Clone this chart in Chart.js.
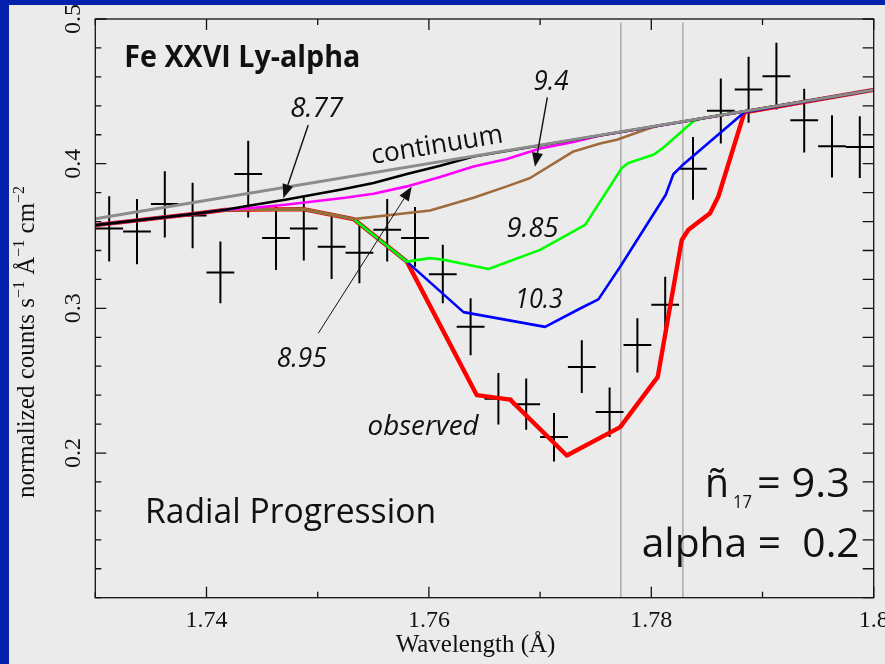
<!DOCTYPE html>
<html lang="en">
<head>
<meta charset="UTF-8">
<title>Fe XXVI Ly-alpha - radial progression</title>
<script src="https://cdn.jsdelivr.net/npm/chart.js"></script>
<style>
  html, body { margin: 0; padding: 0; background: #0421ae; }
  body { width: 885px; height: 664px; overflow: hidden; position: relative; }
  #wrap { position: absolute; left: 9px; top: 5px; width: 876px; height: 659px; background: #ebebeb; }
  canvas { display: block; }
</style>
</head>
<body>
<div id="wrap"><canvas id="spec" width="876" height="659"></canvas></div>
<script>
// binned spectrum (bin centres, flux, error bar ends)
const binWave = [1.73125, 1.73375, 1.73625, 1.73875, 1.74125, 1.74375, 1.74625, 1.74875, 1.75125, 1.75375,
                 1.75625, 1.75875, 1.76125, 1.76375, 1.76625, 1.76875, 1.77125, 1.77375, 1.77625, 1.77875,
                 1.78125, 1.78375, 1.78625, 1.78875, 1.79125, 1.79375, 1.79625, 1.79875];
const binFlux = [0.3552, 0.3531, 0.3721, 0.3642, 0.3247, 0.3929, 0.3487, 0.3552, 0.3425, 0.3385,
                 0.3543, 0.3487, 0.3236, 0.2872, 0.2376, 0.2337, 0.2110, 0.2595, 0.2283, 0.2746,
                 0.3025, 0.3965, 0.4365, 0.4513, 0.4605, 0.4300, 0.4120, 0.4115];
const binLow  = [0.3323, 0.3305, 0.3489, 0.3416, 0.3035, 0.3628, 0.3265, 0.3330, 0.3203, 0.3173,
                 0.3323, 0.3288, 0.3035, 0.2676, 0.2198, 0.2161, 0.1942, 0.2415, 0.2110, 0.2557,
                 0.2834, 0.3750, 0.4139, 0.4283, 0.4374, 0.4078, 0.3905, 0.3901];
const binHigh = [0.3774, 0.3755, 0.3947, 0.3868, 0.3462, 0.4159, 0.3704, 0.3773, 0.3631, 0.3577,
                 0.3755, 0.3700, 0.3439, 0.3069, 0.2554, 0.2515, 0.2277, 0.2780, 0.2453, 0.2931,
                 0.3219, 0.4185, 0.4589, 0.4739, 0.4836, 0.4518, 0.4335, 0.4328];
const binHalfWidth = 0.00125;

// continuum
const contWave = [1.73, 1.80];
const contFlux = [0.362, 0.451];

// model profiles, labelled by log column density
const wave877 = [1.73, 1.73869, 1.74169, 1.74378, 1.74708, 1.75202, 1.75502, 1.75802, 1.76101, 1.76401, 1.80];
const flux877 = [0.3575, 0.3651, 0.3681, 0.3709, 0.3751, 0.3820, 0.3866, 0.3929, 0.3985, 0.4050, 0.451];

const wave895 = [1.73, 1.73869, 1.74169, 1.74378, 1.74708, 1.75247, 1.75502, 1.75802, 1.76101, 1.76401,
                 1.76701, 1.77, 1.773, 1.7754, 1.80];
const flux895 = [0.3575, 0.3651, 0.3681, 0.3692, 0.3716, 0.3764, 0.3792, 0.3843, 0.3908, 0.3981,
                 0.4033, 0.4105, 0.4150, 0.4195, 0.451];

const wave940 = [1.73, 1.73869, 1.74169, 1.7487, 1.75322, 1.76011, 1.76401, 1.76701, 1.7691, 1.773,
                 1.7754, 1.7769, 1.77989, 1.7808, 1.80];
const flux940 = [0.3575, 0.3651, 0.3681, 0.3686, 0.3617, 0.3676, 0.3765, 0.3843, 0.3901, 0.4085,
                 0.4139, 0.4166, 0.4247, 0.4265, 0.451];

const wave985 = [1.73, 1.73869, 1.74169, 1.7487, 1.75322, 1.75802, 1.76011, 1.76131, 1.76536, 1.77,
                 1.77405, 1.77735, 1.77794, 1.78019, 1.78094, 1.78378, 1.78468, 1.80];
const flux985 = [0.3575, 0.3651, 0.3681, 0.3686, 0.3617, 0.3323, 0.3347, 0.3336, 0.3272, 0.3404,
                 0.3577, 0.3970, 0.4005, 0.4062, 0.4102, 0.4293, 0.4315, 0.451];

const wave1030 = [1.73, 1.73869, 1.74169, 1.7487, 1.75322, 1.75802, 1.76311, 1.77045, 1.7736, 1.77524,
                  1.7772, 1.7813, 1.78198, 1.78274, 1.78837, 1.80];
const flux1030 = [0.3575, 0.3651, 0.3681, 0.3686, 0.3617, 0.3323, 0.2974, 0.2872, 0.2999, 0.3062,
                  0.3288, 0.3785, 0.3927, 0.3985, 0.4355, 0.451];

const waveObs = [1.73, 1.73869, 1.74169, 1.7487, 1.75322, 1.75802, 1.76431, 1.76731, 1.7724, 1.7772,
                 1.78058, 1.78274, 1.78334, 1.78528, 1.78603, 1.78837, 1.80];
const fluxObs = [0.3575, 0.3651, 0.3681, 0.3686, 0.3617, 0.3323, 0.2400, 0.2369, 0.1983, 0.2179,
                 0.2526, 0.3473, 0.3543, 0.3658, 0.3773, 0.4355, 0.451];

// rest wavelengths of the two line components
const markWave = [1.77726, 1.78284];
const markTop = 0.4975;

const SANS = '"Open Sans", "Noto Sans", sans-serif';
const SERIF = '"Liberation Serif", "DejaVu Serif", serif';

const pts = (wx, fy) => wx.map((w, i) => ({ x: w, y: fy[i] }));

function profile(label, wx, fy, color, width) {
  return {
    label, data: pts(wx, fy), borderColor: color, borderWidth: width,
    pointRadius: 0, fill: false, tension: 0, borderJoinStyle: 'round'
  };
}

// each bin becomes a cross: horizontal bar, gap, vertical bar, gap
const crossData = [];
binWave.forEach((w, i) => {
  crossData.push({ x: w - binHalfWidth, y: binFlux[i] }, { x: w + binHalfWidth, y: binFlux[i] }, { x: w, y: null });
  crossData.push({ x: w, y: binLow[i] }, { x: w, y: binHigh[i] }, { x: w, y: null });
});

const markData = [];
markWave.forEach(w => {
  markData.push({ x: w, y: 0.1 }, { x: w, y: markTop }, { x: w, y: null });
});

// first dataset is painted last (on top)
const datasets = [
  profile('continuum', contWave, contFlux, '#8c8c8c', 3),
  profile('8.77', wave877, flux877, '#000000', 2.6),
  profile('8.95', wave895, flux895, '#ff00ff', 2.6),
  profile('9.4', wave940, flux940, '#a06b3c', 2.6),
  profile('9.85', wave985, flux985, '#00ff00', 2.6),
  profile('10.3', wave1030, flux1030, '#0000ff', 2.6),
  profile('observed', waveObs, fluxObs, '#ff0000', 4.4),
  { label: 'data', data: crossData, borderColor: '#000', borderWidth: 2, pointRadius: 0, spanGaps: false, tension: 0 },
  { label: 'lines', data: markData, borderColor: '#a6a6a6', borderWidth: 1.4, pointRadius: 0, spanGaps: false, tension: 0 }
];

// labels placed in data units
const notes = [
  { text: 'Fe XXVI Ly-alpha', x: 1.73261, y: 0.46703, font: 'bold 30px ' + SANS, align: 'left', width: 236 },
  { text: '8.77', x: 1.74991, y: 0.43247, font: 'italic 27px ' + SANS, align: 'center', width: 53 },
  { text: '9.4', x: 1.77098, y: 0.45092, font: 'italic 27px ' + SANS, align: 'center', width: 35 },
  { text: '9.85', x: 1.76932, y: 0.34953, font: 'italic 27px ' + SANS, align: 'center', width: 52 },
  { text: '10.3', x: 1.76990, y: 0.30004, font: 'italic 27px ' + SANS, align: 'center', width: 48 },
  { text: '8.95', x: 1.74856, y: 0.25967, font: 'italic 27px ' + SANS, align: 'center', width: 50 },
  { text: 'observed', x: 1.75947, y: 0.21246, font: 'italic 27px ' + SANS, align: 'center', width: 111 },
  { text: 'Radial Progression', x: 1.73447, y: 0.15143, font: '35px ' + SANS, align: 'left', width: 291 },
  { text: 'alpha =  0.2', x: 1.79874, y: 0.12834, font: '40px ' + SANS, align: 'right', width: 218 }
];

const arrows = [
  { from: [1.74915, 0.42673], to: [1.74691, 0.37607], lw: 1.4 },
  { from: [1.77065, 0.44588], to: [1.76954, 0.39791], lw: 1.4 },
  { from: [1.75005, 0.28276], to: [1.75845, 0.38409], lw: 1 }
];

function put(ctx, str, x, y, font, align, angle, width) {
  ctx.save();
  ctx.translate(x, y);
  if (angle) ctx.rotate(angle);
  ctx.font = font;
  ctx.textBaseline = 'alphabetic';
  let sx = 1;
  if (width) sx = width / ctx.measureText(str).width;
  ctx.scale(sx, 1);
  ctx.textAlign = align || 'left';
  ctx.fillText(str, 0, 0);
  ctx.restore();
}

function arrow(ctx, x0, y0, x1, y1, lw) {
  const a = Math.atan2(y1 - y0, x1 - x0);
  const len = 14, half = 5.5;
  const bx = x1 - len * Math.cos(a), by = y1 - len * Math.sin(a);
  ctx.lineWidth = lw;
  ctx.beginPath();
  ctx.moveTo(x0, y0);
  ctx.lineTo(bx, by);
  ctx.stroke();
  ctx.beginPath();
  ctx.moveTo(x1, y1);
  ctx.lineTo(bx + half * Math.sin(a), by - half * Math.cos(a));
  ctx.lineTo(bx - half * Math.sin(a), by + half * Math.cos(a));
  ctx.closePath();
  ctx.fill();
}

const isXLabel = v => v > 1.735 && Math.abs(v * 50 - Math.round(v * 50)) < 1e-6;
const isYLabel = v => v > 0.15 && Math.abs(v * 10 - Math.round(v * 10)) < 1e-6;

const frame = {
  id: 'frame',
  afterDraw(chart) {
    const { ctx, chartArea: a, scales: { x, y } } = chart;
    ctx.save();
    ctx.strokeStyle = '#111';
    ctx.fillStyle = '#111';
    ctx.lineWidth = 1.3;
    ctx.strokeRect(a.left, a.top, a.right - a.left, a.bottom - a.top);

    // inward ticks on all four sides
    ctx.beginPath();
    x.ticks.forEach(t => {
      const px = x.getPixelForValue(t.value);
      const len = isXLabel(t.value) ? 11 : 6;
      ctx.moveTo(px, a.bottom); ctx.lineTo(px, a.bottom - len);
      ctx.moveTo(px, a.top); ctx.lineTo(px, a.top + len);
    });
    y.ticks.forEach(t => {
      const py = y.getPixelForValue(t.value);
      const len = isYLabel(t.value) ? 11 : 6;
      ctx.moveTo(a.left, py); ctx.lineTo(a.left + len, py);
      ctx.moveTo(a.right, py); ctx.lineTo(a.right - 11, py);
    });
    ctx.stroke();

    // tick labels
    x.ticks.filter(t => isXLabel(t.value)).forEach(t => {
      put(ctx, String(+t.value.toFixed(2)), x.getPixelForValue(t.value), a.bottom + 29.5, '24px ' + SERIF, 'center');
    });
    y.ticks.filter(t => isYLabel(t.value)).forEach(t => {
      put(ctx, String(+t.value.toFixed(1)), a.left - 15.5, y.getPixelForValue(t.value), '24px ' + SERIF, 'center', -Math.PI / 2);
    });

    // axis titles
    put(ctx, 'Wavelength (\u00c5)', (a.left + a.right) / 2 - 9, a.bottom + 54, '25px ' + SERIF, 'center');
    ctx.save();
    ctx.translate(24.5, 493);
    ctx.rotate(-Math.PI / 2);
    let cx = 0;
    [['normalized counts s', 0], ['\u22121', 1], [' \u00c5', 0], ['\u22121', 1], [' cm', 0], ['\u22122', 1]].forEach(([s, sup]) => {
      ctx.font = (sup ? '16px ' : '25px ') + SERIF;
      ctx.fillText(s, cx, sup ? -10 : 0);
      cx += ctx.measureText(s).width;
    });
    ctx.restore();

    // annotations
    notes.forEach(n => put(ctx, n.text, x.getPixelForValue(n.x), y.getPixelForValue(n.y), n.font, n.align, 0, n.width));

    // "continuum" runs along the continuum slope
    const ang = Math.atan2(y.getPixelForValue(contFlux[1]) - y.getPixelForValue(contFlux[0]),
                           x.getPixelForValue(contWave[1]) - x.getPixelForValue(contWave[0]));
    put(ctx, 'continuum', x.getPixelForValue(1.75495), y.getPixelForValue(0.39978), '27px ' + SANS, 'left', ang, 133);

    // n-tilde with subscript
    const nx = x.getPixelForValue(1.78483), ny = y.getPixelForValue(0.16981);
    put(ctx, '\u00f1', nx, ny, '40px ' + SANS, 'left', 0, 24);
    put(ctx, '17', nx + 28, ny + 11, '19px ' + SANS, 'left', 0, 19);
    put(ctx, '= 9.3', nx + 52, ny, '40px ' + SANS, 'left', 0, 93);

    arrows.forEach(r => arrow(ctx, x.getPixelForValue(r.from[0]), y.getPixelForValue(r.from[1]),
                                   x.getPixelForValue(r.to[0]), y.getPixelForValue(r.to[1]), r.lw));
    ctx.restore();
  }
};

new Chart(document.getElementById('spec'), {
  type: 'line',
  data: { datasets },
  options: {
    responsive: false,
    animation: false,
    devicePixelRatio: 1,
    layout: { padding: { top: 14, right: 11.3, left: 0, bottom: 0 } },
    plugins: { legend: { display: false }, tooltip: { enabled: false } },
    scales: {
      x: {
        type: 'linear', min: 1.73, max: 1.80,
        ticks: { stepSize: 0.01, display: false },
        grid: { display: false }, border: { display: false },
        afterFit: s => { s.height = 66.3; }
      },
      y: {
        type: 'linear', min: 0.1, max: 0.5,
        ticks: { stepSize: 0.02, display: false },
        grid: { display: false }, border: { display: false },
        afterFit: s => { s.width = 86.3; }
      }
    }
  },
  plugins: [frame]
});
</script>
</body>
</html>
